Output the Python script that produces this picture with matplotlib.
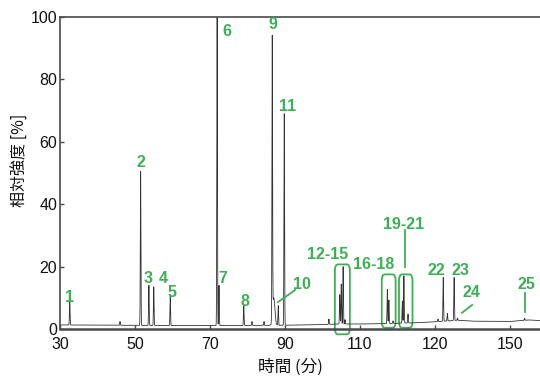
import numpy as np
import matplotlib
matplotlib.use("Agg")
import matplotlib.pyplot as plt
from matplotlib.patches import FancyBboxPatch

# peak list: retention time (scaled axis), peak height [%]
peak_t = [32.6, 46.0, 51.5, 53.7, 55.0, 59.4, 71.9, 72.4, 79.0, 81.2, 84.4,
          86.6, 87.0, 88.2, 89.8, 101.7,
          104.6, 105.0, 105.5, 106.0,
          117.3, 117.7, 118.8,
          121.3, 121.7, 122.8,
          130.8, 132.2, 133.3, 135.1, 136.0, 153.9]
peak_h = [9.0, 2.4, 50.5, 14.0, 13.5, 10.5, 103.0, 14.0, 7.5, 2.4, 2.4,
          90.5, 10.0, 7.5, 69.0, 3.2,
          11.0, 14.4, 20.0, 3.0,
          12.7, 9.3, 2.6,
          9.0, 17.0, 4.8,
          3.2, 16.5, 5.0, 16.5, 3.5, 3.4]
# peak widths (sigma, in axis units)
peak_w = [0.08] * 12 + [0.3] + [0.08] * 19

# baseline levels
base_t = [30, 45, 60, 75, 90, 100, 104, 110, 116, 125, 130, 136, 140, 150, 155, 158]
base_v = [1.3, 1.2, 1.1, 1.1, 1.2, 1.4, 1.6, 1.6, 1.7, 2.0, 2.3, 2.8, 2.5, 2.4, 2.9, 2.7]

# axis ticks (label 120 sits at the 130 position in the original)
tick_pos = [30, 50, 70, 90, 110, 130, 150]
tick_lab = ["30", "50", "70", "90", "110", "120", "150"]

# annotations: text, x, baseline y
labels = ["1", "2", "3", "4", "5", "6", "7", "8", "9", "10", "11",
          "12-15", "16-18", "19-21", "22", "23", "24", "25"]
label_x = [32.4, 51.6, 53.4, 57.5, 59.9, 74.5, 73.5, 79.3, 86.8, 94.5, 90.6,
           101.5, 113.7, 121.7, 130.5, 136.7, 139.8, 154.3]
label_y = [8.8, 51.8, 14.6, 14.6, 10.2, 94.0, 14.6, 7.3, 96.3, 12.8, 69.9,
           22.5, 19.3, 32.2, 17.4, 17.4, 10.2, 12.9]

# green boxes around clusters: x0, x1, y0, y1
box_x0 = [103.3, 115.8, 120.4]
box_x1 = [107.3, 119.5, 124.0]
box_y0 = [-1.7, 0.4, 0.4]
box_y1 = [20.7, 17.5, 17.5]

# leader lines
lead_x = [(88.1, 92.7), (121.9, 121.9), (137.2, 139.9), (154.0, 154.0)]
lead_y = [(8.6, 12.5), (31.7, 20.0), (5.2, 7.7), (11.4, 5.5)]

GREEN = "#3cb054"
AXC = "#4a4a4a"

plt.rcParams["font.family"] = ["Liberation Sans", "DejaVu Sans"]

fig = plt.figure(figsize=(5.4, 3.77), dpi=100)
ax = fig.add_axes([60 / 540, 48 / 377, 480 / 540, 312 / 377])

t = np.arange(30, 158.01, 0.02)
y = np.interp(t, base_t, base_v)
for pt, ph, pw in zip(peak_t, peak_h, peak_w):
    amp = ph - np.interp(pt, base_t, base_v)
    y = y + amp * np.exp(-0.5 * ((t - pt) / pw) ** 2)
ax.plot(t, y, color="#333333", lw=0.6)

ax.set_xlim(30, 158)
ax.set_ylim(0, 100)
ax.set_xticks(tick_pos)
ax.set_xticklabels(tick_lab)
ax.set_yticks(range(0, 101, 20))
ax.tick_params(direction="in", length=3, width=1, color=AXC, labelsize=11.5,
               labelcolor="#111111")
ax.tick_params(axis="x", pad=6)
ax.tick_params(axis="y", pad=2)
for side in ["left", "top", "bottom"]:
    ax.spines[side].set_color(AXC)
    ax.spines[side].set_linewidth(1.2)
ax.spines["bottom"].set_linewidth(1.8)
ax.spines["right"].set_visible(False)

for s, lx, ly in zip(labels, label_x, label_y):
    ax.text(lx, ly, s, color=GREEN, fontsize=11.5, fontweight="bold",
            ha="center", va="baseline")

for x0, x1, y0, y1 in zip(box_x0, box_x1, box_y0, box_y1):
    ax.add_patch(FancyBboxPatch((x0, y0), x1 - x0, y1 - y0,
                                boxstyle="round,pad=0,rounding_size=0.8",
                                mutation_aspect=2.5,
                                fill=False, ec=GREEN, lw=1.3, clip_on=False))

for xs, ys in zip(lead_x, lead_y):
    ax.plot(xs, ys, color=GREEN, lw=1.3)

fig.text(20 / 540, 1 - 160 / 377, "相対強度 [%]", rotation=90, ha="center",
         va="center", fontsize=11.5, color="#111111",
         family=["Noto Sans CJK JP", "DejaVu Sans"])
fig.text(290 / 540, 1 - 367 / 377, "時間 (分)", ha="center", va="center",
         fontsize=12, color="#111111",
         family=["Noto Sans CJK JP", "DejaVu Sans"])

fig.savefig("out.png", dpi=100)
